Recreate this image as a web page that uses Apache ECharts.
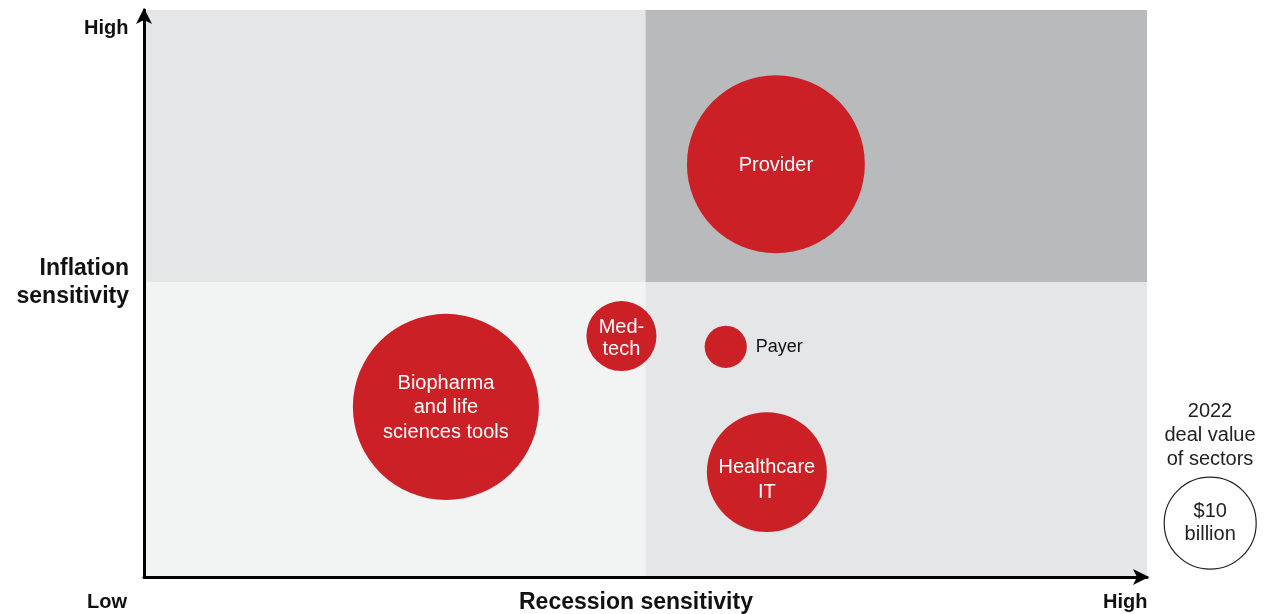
<!DOCTYPE html>
<html>
<head>
<meta charset="utf-8">
<script src="https://cdn.jsdelivr.net/npm/echarts@6/dist/echarts.min.js"></script>
<style>
  html, body { margin: 0; padding: 0; background: #fff; }
  #chart { width: 1270px; height: 614px; }
</style>
</head>
<body>
<div id="chart"></div>
<script>
// sectors: recession sensitivity (x), inflation sensitivity (y), 2022 deal value ($B)
const sectors = ['Provider', 'Biopharma and life sciences tools', 'Medtech', 'Payer', 'Healthcare IT']
const sectorLabels = ['Provider', 'Biopharma\nand life\nsciences tools', 'Med-\ntech', 'Payer', 'Healthcare\nIT']
const recession = [6.30, 3.01, 4.76, 5.80, 6.21]
const inflation = [7.28, 3.00, 4.25, 4.06, 1.85]
const dealValue = [37.4, 40.9, 5.8, 2.1, 17.0]

// size key
const keyValue = [10]
const keyPos = [10.63, 0.95]

// quadrant split
const xSplit = 5
const ySplit = 5.2

const font = '"Liberation Sans", Arial, sans-serif'
const sizeOf = v => 92 * Math.sqrt(v / 10)

// per-bubble label tweaks
const labelFor = (txt) => {
  if (txt === 'Payer') return { show: true, position: 'right', distance: 9, color: '#111', fontSize: 18, formatter: txt }
  if (txt === 'Med-\ntech') return { show: true, position: 'inside', color: '#fff', fontSize: 20, lineHeight: 22, offset: [0, 2], formatter: txt }
  if (txt === 'Healthcare\nIT') return { show: true, position: 'inside', color: '#fff', fontSize: 20, lineHeight: 25, offset: [0, 8], formatter: txt }
  return { show: true, position: 'inside', color: '#fff', fontSize: 20, lineHeight: 24.5, offset: [0, 1], formatter: txt }
}

let chart = echarts.init(document.getElementById('chart'))
chart.setOption({
  animation: false,
  textStyle: { fontFamily: font },
  grid: { left: 144, right: 123, top: 10, bottom: 37 },
  xAxis: {
    type: 'value', min: 0, max: 10, z: 10,
    axisLine: { show: true, symbol: ['none', 'arrow'], symbolSize: [12, 16], symbolOffset: [0, 2], lineStyle: { color: '#000', width: 3 } },
    axisTick: { show: false }, axisLabel: { show: false }, splitLine: { show: false }
  },
  yAxis: {
    type: 'value', min: 0, max: 10, z: 10,
    axisLine: { show: true, symbol: ['none', 'arrow'], symbolSize: [12, 16], symbolOffset: [0, 2], lineStyle: { color: '#000', width: 3 } },
    axisTick: { show: false }, axisLabel: { show: false }, splitLine: { show: false }
  },
  series: [
    {
      type: 'scatter',
      data: [],
      silent: true,
      z: 1,
      markArea: {
        silent: true,
        data: [
          [{ coord: [0, ySplit], itemStyle: { color: '#e4e6e7' } }, { coord: [xSplit, 10] }],
          [{ coord: [xSplit, ySplit], itemStyle: { color: '#b9babc' } }, { coord: [10, 10] }],
          [{ coord: [0, 0], itemStyle: { color: '#f2f3f3' } }, { coord: [xSplit, ySplit] }],
          [{ coord: [xSplit, 0], itemStyle: { color: '#e4e6e7' } }, { coord: [10, ySplit] }]
        ]
      }
    },
    {
      type: 'scatter',
      z: 5,
      data: sectors.map((s, i) => ({
        name: s,
        value: [recession[i], inflation[i], dealValue[i]],
        label: labelFor(sectorLabels[i])
      })),
      symbolSize: d => sizeOf(d[2]),
      itemStyle: { color: '#cc2027', opacity: 1 }
    },
    {
      type: 'scatter',
      clip: false,
      z: 5,
      data: [[keyPos[0], keyPos[1], keyValue[0]]],
      symbolSize: d => sizeOf(d[2]),
      itemStyle: { color: '#fff', borderColor: '#222', borderWidth: 1.2, opacity: 1 },
      label: { show: true, position: 'inside', color: '#222', fontSize: 20, lineHeight: 23, formatter: '$10\nbillion' }
    }
  ],
  graphic: [
    { type: 'text', left: 84, top: 18, style: { text: 'High', font: 'bold 20px ' + font, fill: '#111' } },
    { type: 'text', left: 87, top: 592, style: { text: 'Low', font: 'bold 20px ' + font, fill: '#111' } },
    { type: 'text', left: 1103, top: 592, style: { text: 'High', font: 'bold 20px ' + font, fill: '#111' } },
    { type: 'text', left: 519, top: 591, style: { text: 'Recession sensitivity', font: 'bold 23px ' + font, fill: '#111' } },
    { type: 'text', x: 129, y: 255, style: { text: 'Inflation\nsensitivity', font: 'bold 23px ' + font, fill: '#111', align: 'right', lineHeight: 28 } },
    { type: 'text', x: 1210, y: 399, style: { text: '2022\ndeal value\nof sectors', font: '20px ' + font, fill: '#222', align: 'center', lineHeight: 24 } }
  ]
})
</script>
</body>
</html>
